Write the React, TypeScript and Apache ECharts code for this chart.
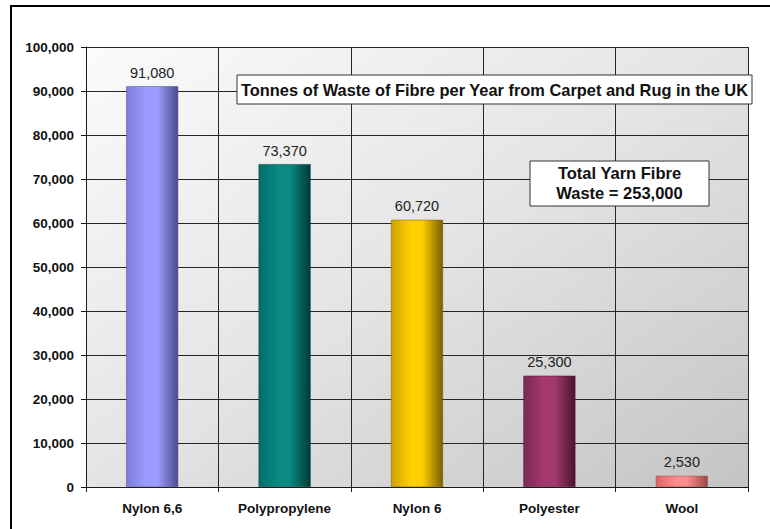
import React, { useEffect, useRef } from "react";
import * as echarts from "echarts";

// Tonnes of fibre waste per year from carpet and rug, by fibre type
const categories = ["Nylon 6,6", "Polypropylene", "Nylon 6", "Polyester", "Wool"];
const tonnes = [91080, 73370, 60720, 25300, 2530];
const totalYarnWaste = 253000;

// Cylinder shading per bar: [left edge, highlight, right edge]
const barShades = [
  ["#7c7cd8", "#9c9cff", "#4c4c8c"],
  ["#006e6a", "#0a8a82", "#013a38"],
  ["#cfa200", "#ffd000", "#7a5e00"],
  ["#7c2852", "#a23a6e", "#4a1430"],
  ["#d86464", "#ff8c8c", "#9a4848"],
];

const fmt = (v: number) => v.toLocaleString("en-US");
const FONT = "'Liberation Sans', Arial, sans-serif";

export default function App() {
  const ref = useRef<HTMLDivElement>(null);

  useEffect(() => {
    document.body.style.margin = "0";
    const chart = echarts.init(ref.current!, null, { renderer: "svg" });

    const cylinder = (c: string[]) =>
      new echarts.graphic.LinearGradient(0, 0, 1, 0, [
        { offset: 0, color: c[0] },
        { offset: 0.38, color: c[1] },
        { offset: 0.6, color: c[1] },
        { offset: 1, color: c[2] },
      ]);

    chart.setOption({
      animation: false,
      backgroundColor: "#ffffff",
      grid: {
        left: 86,
        right: 22,
        top: 47,
        bottom: 42,
        show: true,
        borderWidth: 0,
        backgroundColor: new echarts.graphic.LinearGradient(0, 0, 1, 1, [
          { offset: 0, color: "#fbfbfb" },
          { offset: 0.5, color: "#e4e4e4" },
          { offset: 1, color: "#c4c4c4" },
        ]),
      },
      xAxis: {
        type: "category",
        data: categories,
        axisLine: { show: true, lineStyle: { color: "#1a1a1a", width: 1 } },
        axisTick: { show: true, length: 5, lineStyle: { color: "#1a1a1a" } },
        axisLabel: {
          color: "#111",
          fontFamily: FONT,
          fontSize: 13.5,
          fontWeight: "bold",
          margin: 14,
        },
        splitLine: { show: true, lineStyle: { color: "#262626", width: 1 } },
      },
      yAxis: {
        type: "value",
        min: 0,
        max: 100000,
        interval: 10000,
        axisLine: { show: true, lineStyle: { color: "#1a1a1a", width: 1 } },
        axisTick: { show: true, length: 5, lineStyle: { color: "#1a1a1a" } },
        axisLabel: {
          color: "#111",
          fontFamily: FONT,
          fontSize: 13.5,
          fontWeight: "bold",
          margin: 12,
          formatter: (v: number) => fmt(v),
        },
        splitLine: { show: true, lineStyle: { color: "#262626", width: 1 } },
      },
      series: [
        {
          type: "bar",
          barWidth: 52,
          data: tonnes.map((v, i) => ({
            value: v,
            itemStyle: {
              color: cylinder(barShades[i]),
              borderColor: barShades[i][2],
              borderWidth: 0.5,
            },
          })),
          label: {
            show: true,
            position: "top",
            distance: 6,
            color: "#222",
            fontFamily: FONT,
            fontSize: 14.5,
            formatter: (p: any) => fmt(p.value),
          },
        },
      ],
      graphic: [
        {
          type: "rect",
          z: 100,
          shape: { x: 11, y: 6, width: 800, height: 600 },
          style: { fill: "none", stroke: "#000", lineWidth: 2 },
          silent: true,
        },
        {
          type: "group",
          z: 100,
          children: [
            {
              type: "rect",
              z: 100,
              shape: { x: 237, y: 75, width: 515, height: 29 },
              style: { fill: "#ffffff", stroke: "#333", lineWidth: 1 },
            },
            {
              type: "text",
              z: 101,
              x: 494.5,
              y: 90,
              style: {
                text: "Tonnes of Waste of Fibre per Year from Carpet and Rug in the UK",
                fill: "#111",
                font: `bold 16.4px ${FONT}`,
                align: "center",
                verticalAlign: "middle",
              },
            },
          ],
        },
        {
          type: "group",
          z: 100,
          children: [
            {
              type: "rect",
              z: 100,
              shape: { x: 530, y: 161, width: 179, height: 45 },
              style: { fill: "#ffffff", stroke: "#333", lineWidth: 1 },
            },
            {
              type: "text",
              z: 101,
              x: 619.5,
              y: 173,
              style: {
                text: "Total Yarn Fibre",
                fill: "#111",
                font: `bold 16.5px ${FONT}`,
                align: "center",
                verticalAlign: "middle",
              },
            },
            {
              type: "text",
              z: 101,
              x: 619.5,
              y: 193,
              style: {
                text: `Waste = ${fmt(totalYarnWaste)}`,
                fill: "#111",
                font: `bold 16.5px ${FONT}`,
                align: "center",
                verticalAlign: "middle",
              },
            },
          ],
        },
      ],
    });

    return () => chart.dispose();
  }, []);

  return <div ref={ref} style={{ width: 770, height: 529 }} />;
}
